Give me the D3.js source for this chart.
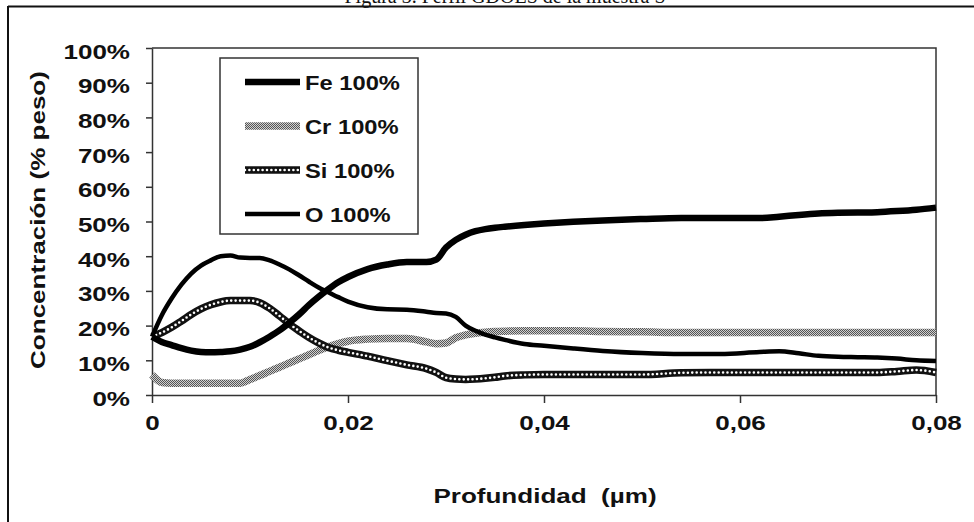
<!DOCTYPE html>
<html><head><meta charset="utf-8">
<script src="https://cdn.jsdelivr.net/npm/d3@7"></script>
<style>
body{margin:0;background:#fff;}
svg{display:block;}
text{font-family:"Liberation Sans",Arial,sans-serif;font-weight:bold;fill:#111;}
</style></head>
<body><svg id="c" width="974" height="522"></svg>
<script>
const title = "Figura 3. Perfil GDOES de la muestra S";
const xLabel = "Profundidad  (µm)";
const yLabel = "Concentración (% peso)";
const seriesNames = ["Fe 100%","Cr 100%","Si 100%","O 100%"];
const xTicks = [0,0.02,0.04,0.06,0.08];
const xTickLabels = ["0","0,02","0,04","0,06","0,08"];
const yTicks = [0,0.1,0.2,0.3,0.4,0.5,0.6,0.7,0.8,0.9,1.0];
const yTickLabels = ["0%","10%","20%","30%","40%","50%","60%","70%","80%","90%","100%"];

const depth = [0,.001,.002,.003,.004,.005,.006,.007,.008,.009,.010,.011,.012,.013,.014,.015,.016,.017,.018,.019,.020,.022,.024,.026,.028,.029,.030,.031,.032,.033,.034,.035,.036,.038,.040,.043,.046,.050,.054,.058,.062,.064,.066,.068,.070,.072,.074,.076,.078,.080];
const fe = [16.8,15.3,14.4,13.5,12.8,12.4,12.3,12.4,12.6,13.1,13.9,15.2,16.8,18.6,20.8,23.2,25.9,28.3,30.5,32.5,34.0,36.3,37.6,38.3,38.3,39.0,42.5,44.7,46.2,47.2,47.8,48.2,48.5,49.0,49.4,49.9,50.3,50.7,51.0,51.0,51.0,51.4,51.9,52.3,52.5,52.6,52.7,53.0,53.4,54.0];
const cr = [5.8,3.6,3.4,3.4,3.4,3.4,3.4,3.4,3.4,3.4,4.5,5.6,6.8,8.0,9.2,10.4,11.6,12.8,13.9,14.8,15.5,16.1,16.3,16.3,15.3,14.8,15.0,16.5,17.3,17.8,18.1,18.3,18.4,18.5,18.5,18.5,18.3,18.2,18.0,18.0,18.0,18.0,18.0,18.0,18.0,18.0,18.0,18.0,18.0,18.0];
const si = [16.8,18.0,19.5,21.3,23.2,24.8,26.0,26.8,27.2,27.2,27.2,26.6,25.0,22.8,20.5,18.5,16.6,15.0,13.7,12.9,12.3,11.2,9.9,8.7,7.6,6.5,5.0,4.6,4.5,4.6,4.8,5.1,5.5,5.8,5.9,5.9,5.9,5.9,6.4,6.5,6.5,6.5,6.5,6.5,6.5,6.5,6.5,6.8,7.2,6.5];
const ox = [16.8,23.0,27.8,31.8,35.0,37.3,38.8,40.0,40.2,39.6,39.5,39.5,38.8,37.6,36.2,34.5,32.7,31.0,29.6,28.2,26.9,25.3,24.7,24.6,24.0,23.6,23.5,22.5,20.0,18.5,17.4,16.6,15.9,14.7,14.2,13.4,12.7,12.1,11.8,11.8,12.4,12.6,12.0,11.3,11.0,10.9,10.8,10.5,10.0,9.8];

const svg = d3.select("#c");
const W = 974, H = 522;
const L = 152, R = 936, T = 48, B = 395;
const SX = 1.24; // horizontal text widening seen in the reference
const x = d3.scaleLinear().domain([0,0.08]).range([L,R]);
const y = d3.scaleLinear().domain([0,1]).range([B,T]);

const defs = svg.append("defs");
const pat = defs.append("pattern").attr("id","chk").attr("patternUnits","userSpaceOnUse").attr("width",2).attr("height",2);
pat.append("rect").attr("width",2).attr("height",2).attr("fill","#d0d0d0");
pat.append("rect").attr("width",1).attr("height",1).attr("fill","#555");
pat.append("rect").attr("x",1).attr("y",1).attr("width",1).attr("height",1).attr("fill","#555");

// title (cut off at top as in the reference)
svg.append("text").attr("x",505).attr("y",2.5).attr("text-anchor","middle")
  .style("font-family","'Liberation Serif',serif").style("font-weight","normal").style("font-size","20px").text(title);

// outer frame
svg.append("line").attr("x1",8).attr("x2",W).attr("y1",6.5).attr("y2",6.5).attr("stroke","#111").attr("stroke-width",2);
svg.append("line").attr("x1",8).attr("x2",8).attr("y1",6).attr("y2",H).attr("stroke","#111").attr("stroke-width",2);

// plot frame
svg.append("path").attr("d",`M${L},${T}H${R}V${B}`).attr("stroke","#333").attr("stroke-width",1.5).attr("fill","none");

// axes
const sx = svg.append("g").attr("transform",`translate(0,${B})`)
  .call(d3.axisBottom(x).tickValues(xTicks).tickFormat((d,i)=>xTickLabels[i]).tickSize(8).tickSizeOuter(0));
const sy = svg.append("g").attr("transform",`translate(${L},0)`)
  .call(d3.axisLeft(y).tickValues(yTicks).tickFormat((d,i)=>yTickLabels[i]).tickSize(6).tickSizeOuter(0));
[sx,sy].forEach(g=>{
  g.select(".domain").attr("stroke","#333").attr("stroke-width",1.5);
  g.selectAll(".tick line").attr("stroke","#333").attr("stroke-width",1.5);
  g.selectAll("text").style("font-size","21px").attr("fill","#111");
});
sx.selectAll("text").attr("dy",0).attr("y",0).attr("transform",`translate(0,35) scale(${SX},1)`);
sy.selectAll("text").attr("x",0).attr("dy",0).attr("transform",`translate(-22,10) scale(${SX},1)`);

// axis labels
svg.append("g").attr("transform",`translate(545,503) scale(${SX},1)`)
  .append("text").attr("text-anchor","middle").style("font-size","21px").style("white-space","pre").text(xLabel);
svg.append("g").attr("transform",`translate(45,220) rotate(-90) scale(${SX},1)`)
  .append("text").attr("text-anchor","middle").style("font-size","21px").text(yLabel);

// lines
const line = d3.line().x(d=>x(d[0])).y(d=>y(d[1]/100)).curve(d3.curveMonotoneX);
const pts = arr => depth.map((d,i)=>[d,arr[i]]);
const g = svg.append("g").attr("fill","none").attr("stroke-linejoin","round");

function drawCr(sel, dAttr){ sel.append("path").attr("d",dAttr).attr("stroke","url(#chk)").attr("stroke-width",7.5); }
function drawSi(sel, dAttr){
  sel.append("path").attr("d",dAttr).attr("stroke","#111").attr("stroke-width",7.5);
  sel.append("path").attr("d",dAttr).attr("stroke","#fff").attr("stroke-width",2.6).attr("stroke-linecap","round").attr("stroke-dasharray","0 4.4");
}
function drawO(sel, dAttr){ sel.append("path").attr("d",dAttr).attr("stroke","#000").attr("stroke-width",4.5); }
function drawFe(sel, dAttr){ sel.append("path").attr("d",dAttr).attr("stroke","#000").attr("stroke-width",6.5); }

drawCr(g, line(pts(cr)));
drawSi(g, line(pts(si)));
drawO(g, line(pts(ox)));
drawFe(g, line(pts(fe)));

// legend
const lg = svg.append("g");
lg.append("rect").attr("x",220).attr("y",58).attr("width",198).attr("height",176).attr("fill","#fff").attr("stroke","#333").attr("stroke-width",1.5);
const rowsY = [82,126,170,214];
const drawers = [drawFe, drawCr, drawSi, drawO];
seriesNames.forEach((n,i)=>{
  const ly = rowsY[i];
  const gg = lg.append("g").attr("fill","none");
  drawers[i](gg, `M245,${ly}H300`);
  lg.append("g").attr("transform",`translate(305,${ly+7.5}) scale(1.13,1)`)
    .append("text").style("font-size","21px").text(n);
});
</script></body></html>
